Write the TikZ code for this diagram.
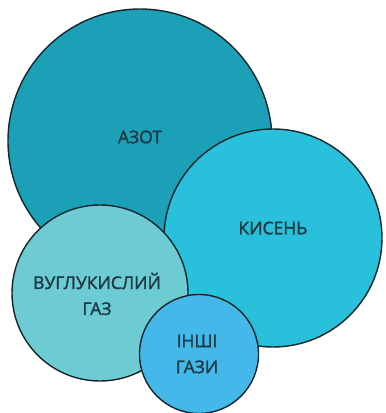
\documentclass[tikz,border=0pt]{standalone}
\usepackage{fontspec}
\setmainfont{Open Sans}
\newfontfamily\gasfont[FakeBold=1.6]{Open Sans}
\definecolor{azotcol}{HTML}{1BA0B8}
\definecolor{kisencol}{HTML}{29C0DC}
\definecolor{vuglcol}{HTML}{6CCBD3}
\definecolor{inshicol}{HTML}{45B8EA}
\definecolor{edgecol}{HTML}{14262C}
\definecolor{textcol}{HTML}{1D3A44}
\tikzset{
  gas/.style={circle, draw=edgecol, line width=1.4pt, inner sep=0pt},
  gaslabel/.style={text=textcol, font=\gasfont\fontsize{17.5}{26}\selectfont, align=center}
}
\begin{document}
\begin{tikzpicture}[x=1pt, y=-1pt]
        \useasboundingbox (0,0) rectangle (386,413);
        \node[gas, fill=azotcol, minimum size=264pt] (azot) at (140,141) {};
        \node[gas, fill=kisencol, minimum size=218pt] (kisen) at (273,238) {};
        \node[gas, fill=vuglcol, minimum size=176pt] (vugl) at (100,293) {};
        \node[gas, fill=inshicol, minimum size=119pt] (inshi) at (199,354) {};

        \node[gaslabel] (azotlabel) at (140,137) {АЗОТ};
        \node[gaslabel] (kisenlabel) at (273,228) {КИСЕНЬ};
        \node[gaslabel] (vugllabel) at (97,294) {ВУГЛУКИСЛИЙ\\ГАЗ};
        \node[gaslabel] (inshilabel) at (197,354) {ІНШІ\\ГАЗИ};
    \end{tikzpicture}
\end{document}
